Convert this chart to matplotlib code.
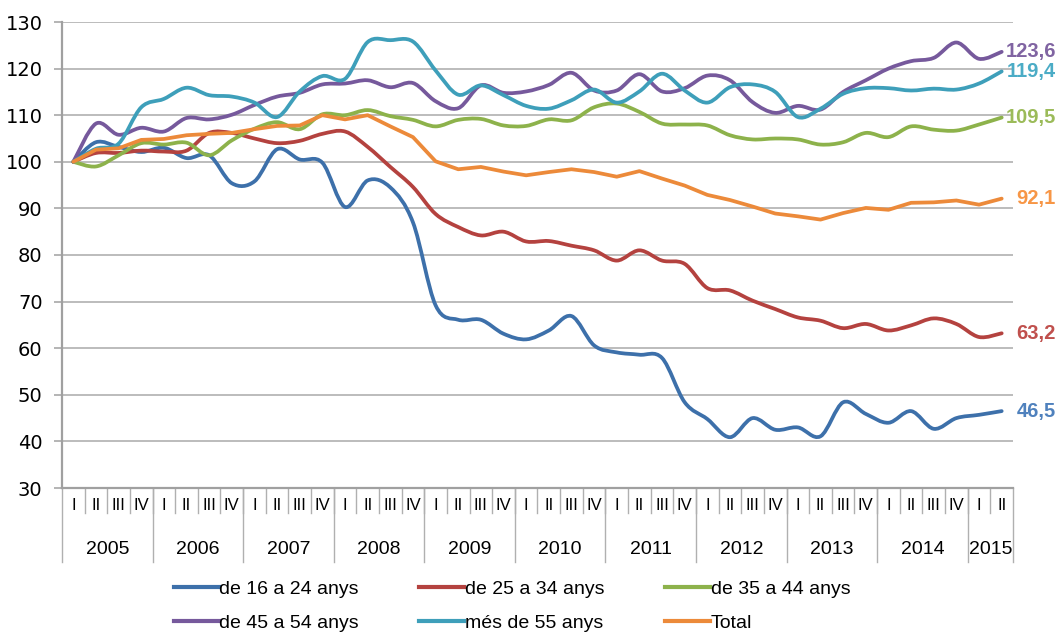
import numpy as np
import matplotlib
matplotlib.use("Agg")
import matplotlib.pyplot as plt
from matplotlib.path import Path
from matplotlib.patches import PathPatch
from matplotlib.lines import Line2D

# ---------------- data ----------------
years = ['2005', '2006', '2007', '2008', '2009', '2010', '2011', '2012', '2013', '2014', '2015']
quarters = ['I', 'II', 'III', 'IV'] * 10 + ['I', 'II']

names = ['de 16 a 24 anys', 'de 25 a 34 anys', 'de 35 a 44 anys',
         'de 45 a 54 anys', 'més de 55 anys', 'Total']

s16_24 = [100, 104.2, 103.2, 102.1, 103.0, 100.8, 101.4, 95.4, 95.8, 102.7,
          100.5, 99.8, 90.3, 96.0, 94.5, 87.0, 69.2, 66.1, 66.1, 63.1,
          61.9, 63.8, 66.9, 60.6, 59.1, 58.6, 57.9, 48.4, 44.8, 40.9,
          45.0, 42.5, 43.0, 41.1, 48.4, 45.9, 44.0, 46.5, 42.7, 45.0,
          45.7, 46.5]
s25_34 = [100, 101.9, 101.9, 102.4, 102.2, 102.4, 106.2, 106.2, 105.0, 104.0,
          104.5, 106.0, 106.5, 103.2, 98.9, 94.6, 88.8, 86.0, 84.2, 85.0,
          82.9, 83.0, 82.0, 81.0, 78.8, 81.0, 78.8, 78.1, 72.9, 72.4,
          70.2, 68.4, 66.6, 65.9, 64.3, 65.2, 63.8, 64.9, 66.4, 65.2,
          62.4, 63.2]
s35_44 = [100, 99.0, 101.4, 104.0, 103.7, 104.1, 101.4, 104.6, 107.1, 108.5,
          107.0, 110.2, 110.0, 111.1, 109.8, 109.0, 107.6, 109.0, 109.2, 107.8,
          107.7, 109.1, 108.9, 111.7, 112.5, 110.7, 108.2, 108.0, 107.8, 105.7,
          104.8, 105.0, 104.8, 103.7, 104.2, 106.2, 105.3, 107.6, 106.9, 106.7,
          108.0, 109.5]
s45_54 = [100, 108.2, 105.8, 107.3, 106.5, 109.4, 109.1, 110.1, 112.2, 114.0,
          114.8, 116.6, 116.8, 117.5, 116.0, 116.9, 113.0, 111.5, 116.4, 114.8,
          115.1, 116.5, 119.1, 115.3, 115.3, 118.8, 115.1, 115.8, 118.5, 117.5,
          112.8, 110.5, 112.0, 111.2, 115.0, 117.5, 120.0, 121.6, 122.3, 125.6,
          122.1, 123.6]
s55 = [100, 102.8, 103.9, 111.7, 113.5, 115.9, 114.3, 114.0, 112.7, 109.6,
       115.1, 118.4, 117.8, 125.7, 126.1, 125.8, 119.6, 114.4, 116.4, 114.3,
       112.0, 111.4, 113.2, 115.5, 112.7, 115.1, 118.9, 115.3, 112.7, 116.0,
       116.6, 115.0, 109.6, 111.4, 114.6, 115.8, 115.8, 115.3, 115.7, 115.5,
       116.8, 119.4]
total = [100, 102.6, 102.9, 104.7, 104.9, 105.7, 106.0, 106.2, 107.0, 107.7,
         107.8, 110.0, 109.1, 110.0, 107.6, 105.3, 100.1, 98.4, 98.9, 97.9,
         97.1, 97.8, 98.4, 97.8, 96.8, 98.0, 96.4, 94.9, 92.9, 91.8,
         90.4, 88.9, 88.3, 87.6, 89.0, 90.1, 89.7, 91.2, 91.3, 91.7,
         90.8, 92.1]

series = [s16_24, s25_34, s35_44, s45_54, s55, total]
smoothed = [True, True, True, True, True, False]
line_colors = ['#3D70AA', '#B4423F', '#8DB24B', '#76599C', '#3E9FBA', '#EC8A3A']
label_colors = ['#4F81BD', '#C0504D', '#9BBB59', '#8064A2', '#4BACC6', '#F79646']

# ---------------- figure ----------------
W, H = 1059, 633
fig = plt.figure(figsize=(W / 100, H / 100), dpi=100)
ax = fig.add_axes([62 / W, 1 - 488 / H, (1013 - 62) / W, (488 - 22) / H])

FONT = 'Liberation Sans'
plt.rcParams['font.family'] = [FONT, 'DejaVu Sans']

n = len(quarters)
x = np.arange(n)


def smooth_path(xs, ys):
    verts = [(xs[0], ys[0])]
    codes = [Path.MOVETO]
    m = len(xs)
    for i in range(m - 1):
        xp, yp = (xs[i - 1], ys[i - 1]) if i > 0 else (xs[i], ys[i])
        xn, yn = (xs[i + 2], ys[i + 2]) if i + 2 < m else (xs[i + 1], ys[i + 1])
        c1 = (xs[i] + (xs[i + 1] - xp) / 6.0, ys[i] + (ys[i + 1] - yp) / 6.0)
        c2 = (xs[i + 1] - (xn - xs[i]) / 6.0, ys[i + 1] - (yn - ys[i]) / 6.0)
        verts += [c1, c2, (xs[i + 1], ys[i + 1])]
        codes += [Path.CURVE4] * 3
    return Path(verts, codes)


for s, sm, c in zip(series, smoothed, line_colors):
    if sm:
        patch = PathPatch(smooth_path(x, s), fill=False, edgecolor=c, lw=2.7,
                          capstyle='round', joinstyle='round', zorder=3)
        ax.add_patch(patch)
    else:
        ax.plot(x, s, color=c, lw=2.7, solid_joinstyle='round',
                solid_capstyle='round', zorder=3)

# end-value labels
for s, c in zip(series, label_colors):
    txt = f"{s[-1]:.1f}".replace('.', ',')
    ax.annotate(txt, xy=(x[-1], s[-1]), xytext=(39, 0), textcoords='offset points',
                ha='right', va='center', color=c, fontsize=14.5, fontweight='bold',
                family=FONT, annotation_clip=False)

ax.set_xlim(-0.5, n - 0.5)
ax.set_ylim(30, 130)
ax.set_yticks(np.arange(30, 131, 10))
ax.yaxis.grid(True, color='#A9A9A9', lw=1.1)
ax.set_axisbelow(True)
ax.tick_params(axis='y', direction='out', length=6, width=1.1, color='#A0A0A0',
               pad=8, labelsize=14)
ax.set_xticks([])
for sp in ['top', 'right']:
    ax.spines[sp].set_visible(False)
for sp in ['left', 'bottom']:
    ax.spines[sp].set_color('#A0A0A0')
    ax.spines[sp].set_linewidth(1.6)

# x-axis category labels
tr = ax.get_xaxis_transform()
ax_h = 488 - 22
q_y = -(505 - 488) / ax_h
y_y = -(550 - 488) / ax_h
q_line = -(513 - 488) / ax_h
y_line = -(562 - 488) / ax_h

for i, q in enumerate(quarters):
    ax.text(i, q_y, q, transform=tr, ha='center', va='center', fontsize=12, family=FONT)
for i in range(n - 1):
    ax.plot([i + 0.5, i + 0.5], [0, q_line], transform=tr, color='#B0B0B0', lw=1.0,
            clip_on=False)
bounds = list(range(0, n, 4)) + [n]
for b in bounds:
    ax.plot([b - 0.5, b - 0.5], [0, y_line], transform=tr, color='#B0B0B0', lw=1.0,
            clip_on=False)
for k, yr in enumerate(years):
    lo = bounds[k] - 0.5
    hi = bounds[k + 1] - 0.5
    ax.text((lo + hi) / 2, y_y, yr, transform=tr, ha='center', va='center',
            fontsize=14, family=FONT)

# legend (row-major order -> column-major for matplotlib)
handles = [Line2D([0], [0], color=c, lw=3) for c in line_colors]
order = [0, 3, 1, 4, 2, 5]
leg = fig.legend([handles[i] for i in order], [names[i] for i in order],
                 loc='center', bbox_to_anchor=(512 / W, 1 - 606 / H), ncol=3,
                 frameon=False, handlelength=2.3, handletextpad=0.05,
                 columnspacing=3.1, labelspacing=0.85, borderpad=0,
                 prop={'family': FONT, 'size': 14})

fig.savefig('out.png', dpi=100)
